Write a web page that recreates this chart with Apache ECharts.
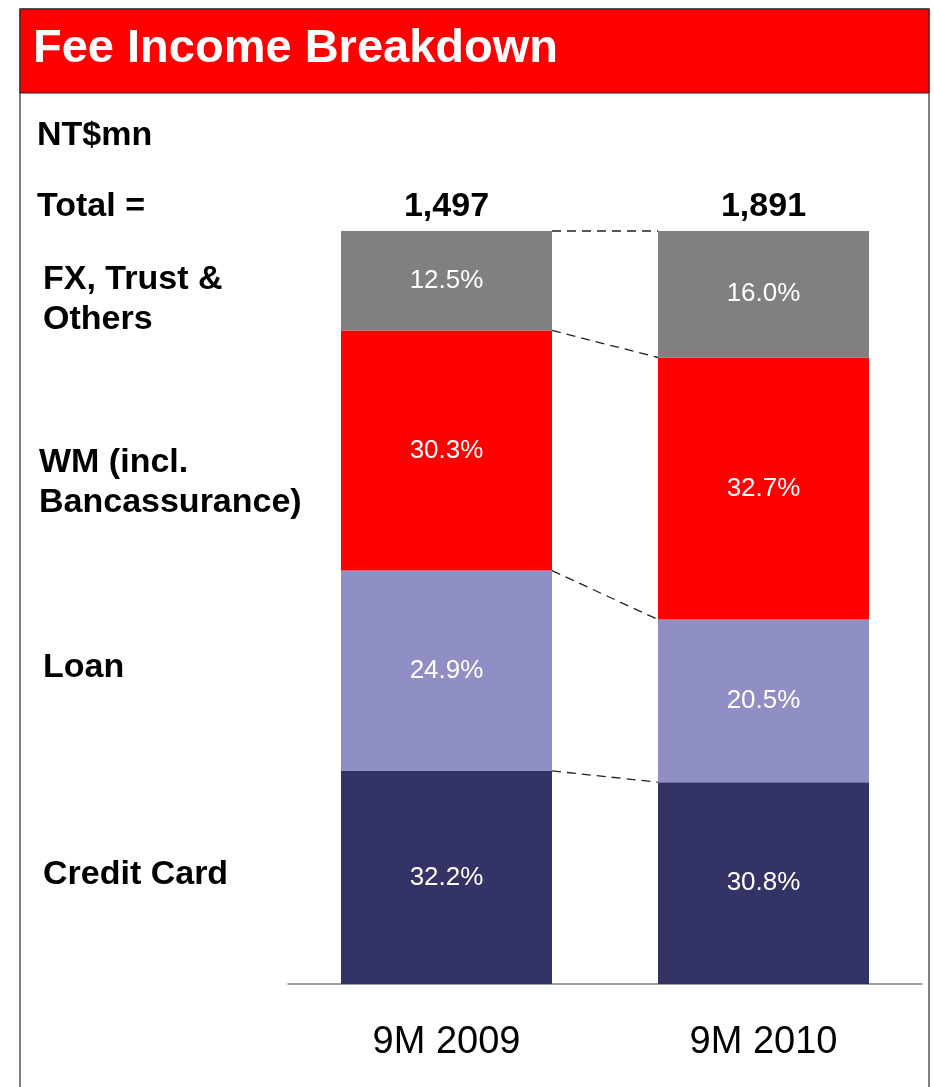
<!DOCTYPE html>
<html>
<head>
<meta charset="utf-8">
<title>Fee Income Breakdown</title>
<script src="https://cdn.jsdelivr.net/npm/echarts@6/dist/echarts.min.js"></script>
<style>
  html, body { margin: 0; padding: 0; background: #fff; }
  #main { width: 934px; height: 1087px; }
</style>
</head>
<body>
<div id="main"></div>
<script>
// periods on the x axis
const periods = ["9M 2009", "9M 2010"];
const totals = ["1,497", "1,891"];

// segments, bottom to top
const segmentNames = ["Credit Card", "Loan", "WM (incl.\nBancassurance)", "FX, Trust &\nOthers"];
// share of bar height as drawn (%)
const creditCard = [28.3, 26.8];
const loan = [26.6, 21.6];
const wm = [31.9, 34.8];
const fxTrust = [13.2, 16.8];
// printed percentage labels
const creditCardLabels = ["32.2%", "30.8%"];
const loanLabels = ["24.9%", "20.5%"];
const wmLabels = ["30.3%", "32.7%"];
const fxTrustLabels = ["12.5%", "16.0%"];

const FONT = "'Liberation Sans', Arial, Helvetica, sans-serif";
const BAR_W = 211;

const chart = echarts.init(document.getElementById("main"), null, { renderer: "canvas" });

const segValues = [creditCard, loan, wm, fxTrust];
const segLabels = [creditCardLabels, loanLabels, wmLabels, fxTrustLabels];
const segColors = ["#333366", "#8F8FC6", "#FF0000", "#808080"];

// cumulative tops of each segment, for the dashed connectors
const cumTops = segValues.map((_, i) =>
  periods.map((p, j) => {
    let s = 0;
    for (let k = 0; k <= i; k++) s += segValues[k][j];
    return s;
  })
);

const barSeries = segValues.map((vals, i) => ({
  name: segmentNames[i],
  type: "bar",
  stack: "fee",
  barWidth: BAR_W,
  data: vals,
  itemStyle: { color: segColors[i] },
  label: {
    show: true,
    position: "inside",
    formatter: (p) => segLabels[i][p.dataIndex],
    color: "#fff",
    fontFamily: FONT,
    fontSize: 26,
  },
  animation: false,
}));

// totals above the bars
barSeries.push({
  type: "bar",
  stack: "fee",
  barWidth: BAR_W,
  data: periods.map(() => 0),
  itemStyle: { color: "transparent" },
  label: {
    show: true,
    position: "top",
    distance: 7,
    formatter: (p) => totals[p.dataIndex],
    color: "#000",
    fontFamily: FONT,
    fontWeight: "bold",
    fontSize: 34,
  },
  animation: false,
});

const connectorSeries = {
  type: "custom",
  data: cumTops.map((c) => [0, c[0]]),
  renderItem: (params, api) => {
    const c = cumTops[params.dataIndex];
    const p1 = api.coord([0, c[0]]);
    const p2 = api.coord([1, c[1]]);
    return {
      type: "line",
      shape: { x1: p1[0] + BAR_W / 2, y1: p1[1], x2: p2[0] - BAR_W / 2, y2: p2[1] },
      style: { stroke: "#222", lineWidth: 1.3, lineDash: [9, 6] },
    };
  },
  silent: true,
  z: 1,
  animation: false,
};

function leftText(text, x, y) {
  return {
    type: "text",
    left: x,
    top: y,
    style: {
      text: text,
      fill: "#000",
      font: "bold 34px " + FONT,
      lineHeight: 40,
    },
  };
}

const option = {
  animation: false,
  backgroundColor: "#fff",
  grid: { left: 288, right: 12, top: 231, bottom: 103 },
  xAxis: {
    type: "category",
    data: periods,
    axisLine: { show: true, lineStyle: { color: "#808080", width: 1.5 } },
    axisTick: { show: false },
    axisLabel: {
      color: "#000",
      fontFamily: FONT,
      fontSize: 38,
      margin: 40,
    },
  },
  yAxis: {
    type: "value",
    min: 0,
    max: 100,
    show: false,
  },
  series: barSeries.concat([connectorSeries]),
  graphic: [
    // frame
    {
      type: "rect",
      shape: { x: 20, y: 9, width: 909, height: 1100 },
      style: { fill: "none", stroke: "#555", lineWidth: 1.5 },
      silent: true,
    },
    // header
    {
      type: "rect",
      shape: { x: 20, y: 9, width: 909, height: 84 },
      style: { fill: "#FF0000", stroke: "#222", lineWidth: 1 },
      silent: true,
    },
    {
      type: "text",
      left: 33,
      top: 26,
      style: { text: "Fee Income Breakdown", fill: "#fff", font: "bold 47px " + FONT },
    },
    leftText("NT$mn", 37, 116),
    leftText("Total =", 37, 187),
    leftText(segmentNames[3], 43, 260),
    leftText(segmentNames[2], 39, 443),
    leftText(segmentNames[1], 43, 648),
    leftText(segmentNames[0], 43, 855),
  ],
};

chart.setOption(option);
</script>
</body>
</html>
